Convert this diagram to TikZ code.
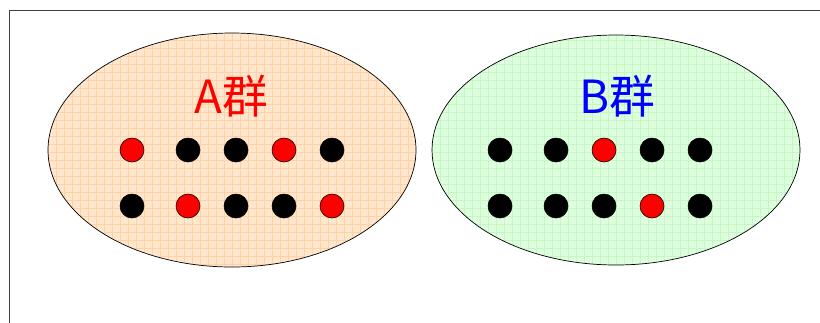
\documentclass[tikz,border=0pt]{standalone}
\usepackage{fontspec}
\newfontfamily\cjk{Noto Sans CJK SC}
\definecolor{peach}{HTML}{FFE6CC}
\definecolor{peachgrid}{HTML}{FFD2A6}
\definecolor{mint}{HTML}{DEFFDE}
\definecolor{mintgrid}{HTML}{C4F7C4}
\begin{document}
\begin{tikzpicture}[x=0.03cm, y=-0.03cm,
    dot/.style={circle, draw=black, line width=0.5pt, minimum size=0.72cm, inner sep=0pt},
    hit/.style={dot, fill=red},
    miss/.style={dot, fill=black},
    grouptitle/.style={font=\cjk\fontsize{39}{39}\selectfont, inner sep=0pt}]
    \useasboundingbox (0,0) rectangle (820,322);

    % ------------------ frame ------------------
    \draw[black!75, line width=0.7pt] (9,340) -- (9,10) -- (840,10);

    % ------------------ A group ------------------
    \begin{scope}
        \clip (232,150) ellipse (184 and 117);
        \fill[peach] (40,25) rectangle (425,275);
        \draw[peachgrid, line width=0.3pt, step=0.24cm] (40,25) grid (425,275);
    \end{scope}
    \draw[black, line width=0.6pt] (232,150) ellipse (184 and 117);
    \node[grouptitle, text=red] (titleA) at (231,96) {A群};
    \foreach \px/\c [count=\i] in {132/hit,188/miss,236/miss,284/hit,332/miss}
        \node[\c] (a1\i) at (\px,150) {};
    \foreach \px/\c [count=\i] in {132/miss,188/hit,236/miss,284/miss,332/hit}
        \node[\c] (a2\i) at (\px,206) {};

    % ------------------ B group ------------------
    \begin{scope}
        \clip (616,150) ellipse (184 and 115);
        \fill[mint] (425,25) rectangle (810,275);
        \draw[mintgrid, line width=0.3pt, step=0.24cm] (425,25) grid (810,275);
    \end{scope}
    \draw[black, line width=0.6pt] (616,150) ellipse (184 and 115);
    \node[grouptitle, text=blue] (titleB) at (617,96) {B群};
    \foreach \px/\c [count=\i] in {500/miss,556/miss,604/hit,652/miss,700/miss}
        \node[\c] (b1\i) at (\px,150) {};
    \foreach \px/\c [count=\i] in {500/miss,556/miss,604/miss,652/hit,700/miss}
        \node[\c] (b2\i) at (\px,206) {};
\end{tikzpicture}
\end{document}
